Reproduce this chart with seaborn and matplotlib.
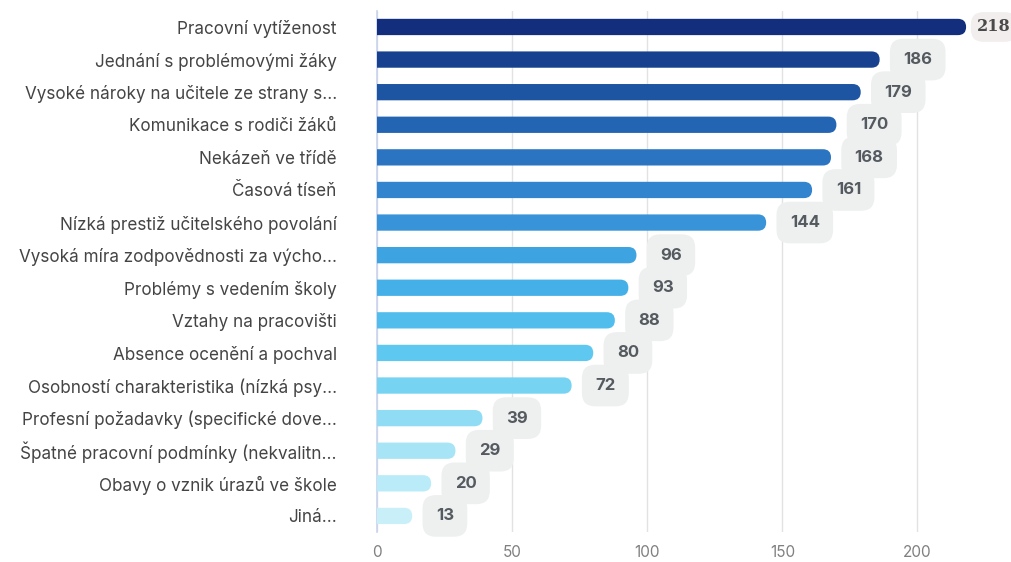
import matplotlib
matplotlib.use("Agg")
import matplotlib.pyplot as plt
import seaborn as sns
from matplotlib.patches import FancyBboxPatch

categories = [
    "Pracovní vytíženost",
    "Jednání s problémovými žáky",
    "Vysoké nároky na učitele ze strany s...",
    "Komunikace s rodiči žáků",
    "Nekázeň ve třídě",
    "Časová tíseň",
    "Nízká prestiž učitelského povolání",
    "Vysoká míra zodpovědnosti za výcho...",
    "Problémy s vedením školy",
    "Vztahy na pracovišti",
    "Absence ocenění a pochval",
    "Osobností charakteristika (nízká psy...",
    "Profesní požadavky (specifické dove...",
    "Špatné pracovní podmínky (nekvalitn...",
    "Obavy o vznik úrazů ve škole",
    "Jiná...",
]
values = [218, 186, 179, 170, 168, 161, 144, 96, 93, 88, 80, 72, 39, 29, 20, 13]
colors = ["#132e7c", "#17418f", "#1d55a3", "#2364b3", "#2a74c2", "#3284ce",
          "#3993d8", "#3ea3e1", "#45b0e7", "#50bdec", "#5ec8f0", "#76d3f2",
          "#8fdcf4", "#a6e4f6", "#baebf8", "#c9f0f9"]

sns.set_theme(style="white")
plt.rcParams["font.family"] = ["Inter", "DejaVu Sans"]

fig = plt.figure(figsize=(10.11, 5.62), dpi=100)
ax = fig.add_axes([0.373, 0.053, 0.62, 0.928])

sns.barplot(x=values, y=categories, hue=categories, palette=colors,
            legend=False, orient="h", width=0.5, saturation=1, ax=ax)

# swap the plain bars for rounded ones
r = 3.0
for p in list(ax.patches):
    x0, y0 = p.get_x(), p.get_y()
    w, h = p.get_width(), p.get_height()
    fc = p.get_facecolor()
    p.remove()
    fb = FancyBboxPatch((x0 - r, y0), w + r, h,
                        boxstyle=f"round,pad=0,rounding_size={r}",
                        mutation_aspect=0.25 / r, fc=fc, ec="none", zorder=3)
    ax.add_patch(fb)

for i, v in enumerate(values):
    if i == 0:
        ax.annotate(str(v), (v, i), xytext=(8, 0), textcoords="offset points",
                    ha="left", va="center", fontsize=11.5, fontweight="bold",
                    family="DejaVu Serif", color="#4a4a4a", zorder=5,
                    annotation_clip=False,
                    bbox=dict(boxstyle="round,pad=0.4,rounding_size=0.8",
                              fc="#f3eeee", ec="none"))
    else:
        ax.annotate(str(v), (v, i), xytext=(17, 0), textcoords="offset points",
                    ha="left", va="center", fontsize=12, fontweight="bold",
                    color="#555a60", zorder=5,
                    bbox=dict(boxstyle="round,pad=0.8,rounding_size=0.8",
                              fc="#eef0f0", ec="none"))

ax.set_xlim(0, 232)
ax.set_ylim(15.5, -0.5)
ax.set_xticks([0, 50, 100, 150, 200])
ax.xaxis.grid(True, color="#e2e2e2", linewidth=1)
ax.set_axisbelow(True)
for s in ["top", "right", "bottom"]:
    ax.spines[s].set_visible(False)
ax.spines["left"].set_color("#c9d3ec")
ax.spines["left"].set_linewidth(1.2)
ax.tick_params(axis="y", length=0, pad=29, labelsize=12.3, labelcolor="#444444")
ax.tick_params(axis="x", length=0, pad=9, labelsize=11, labelcolor="#808080")
ax.set_xlabel("")
ax.set_ylabel("")

fig.savefig("out.png", dpi=100)
